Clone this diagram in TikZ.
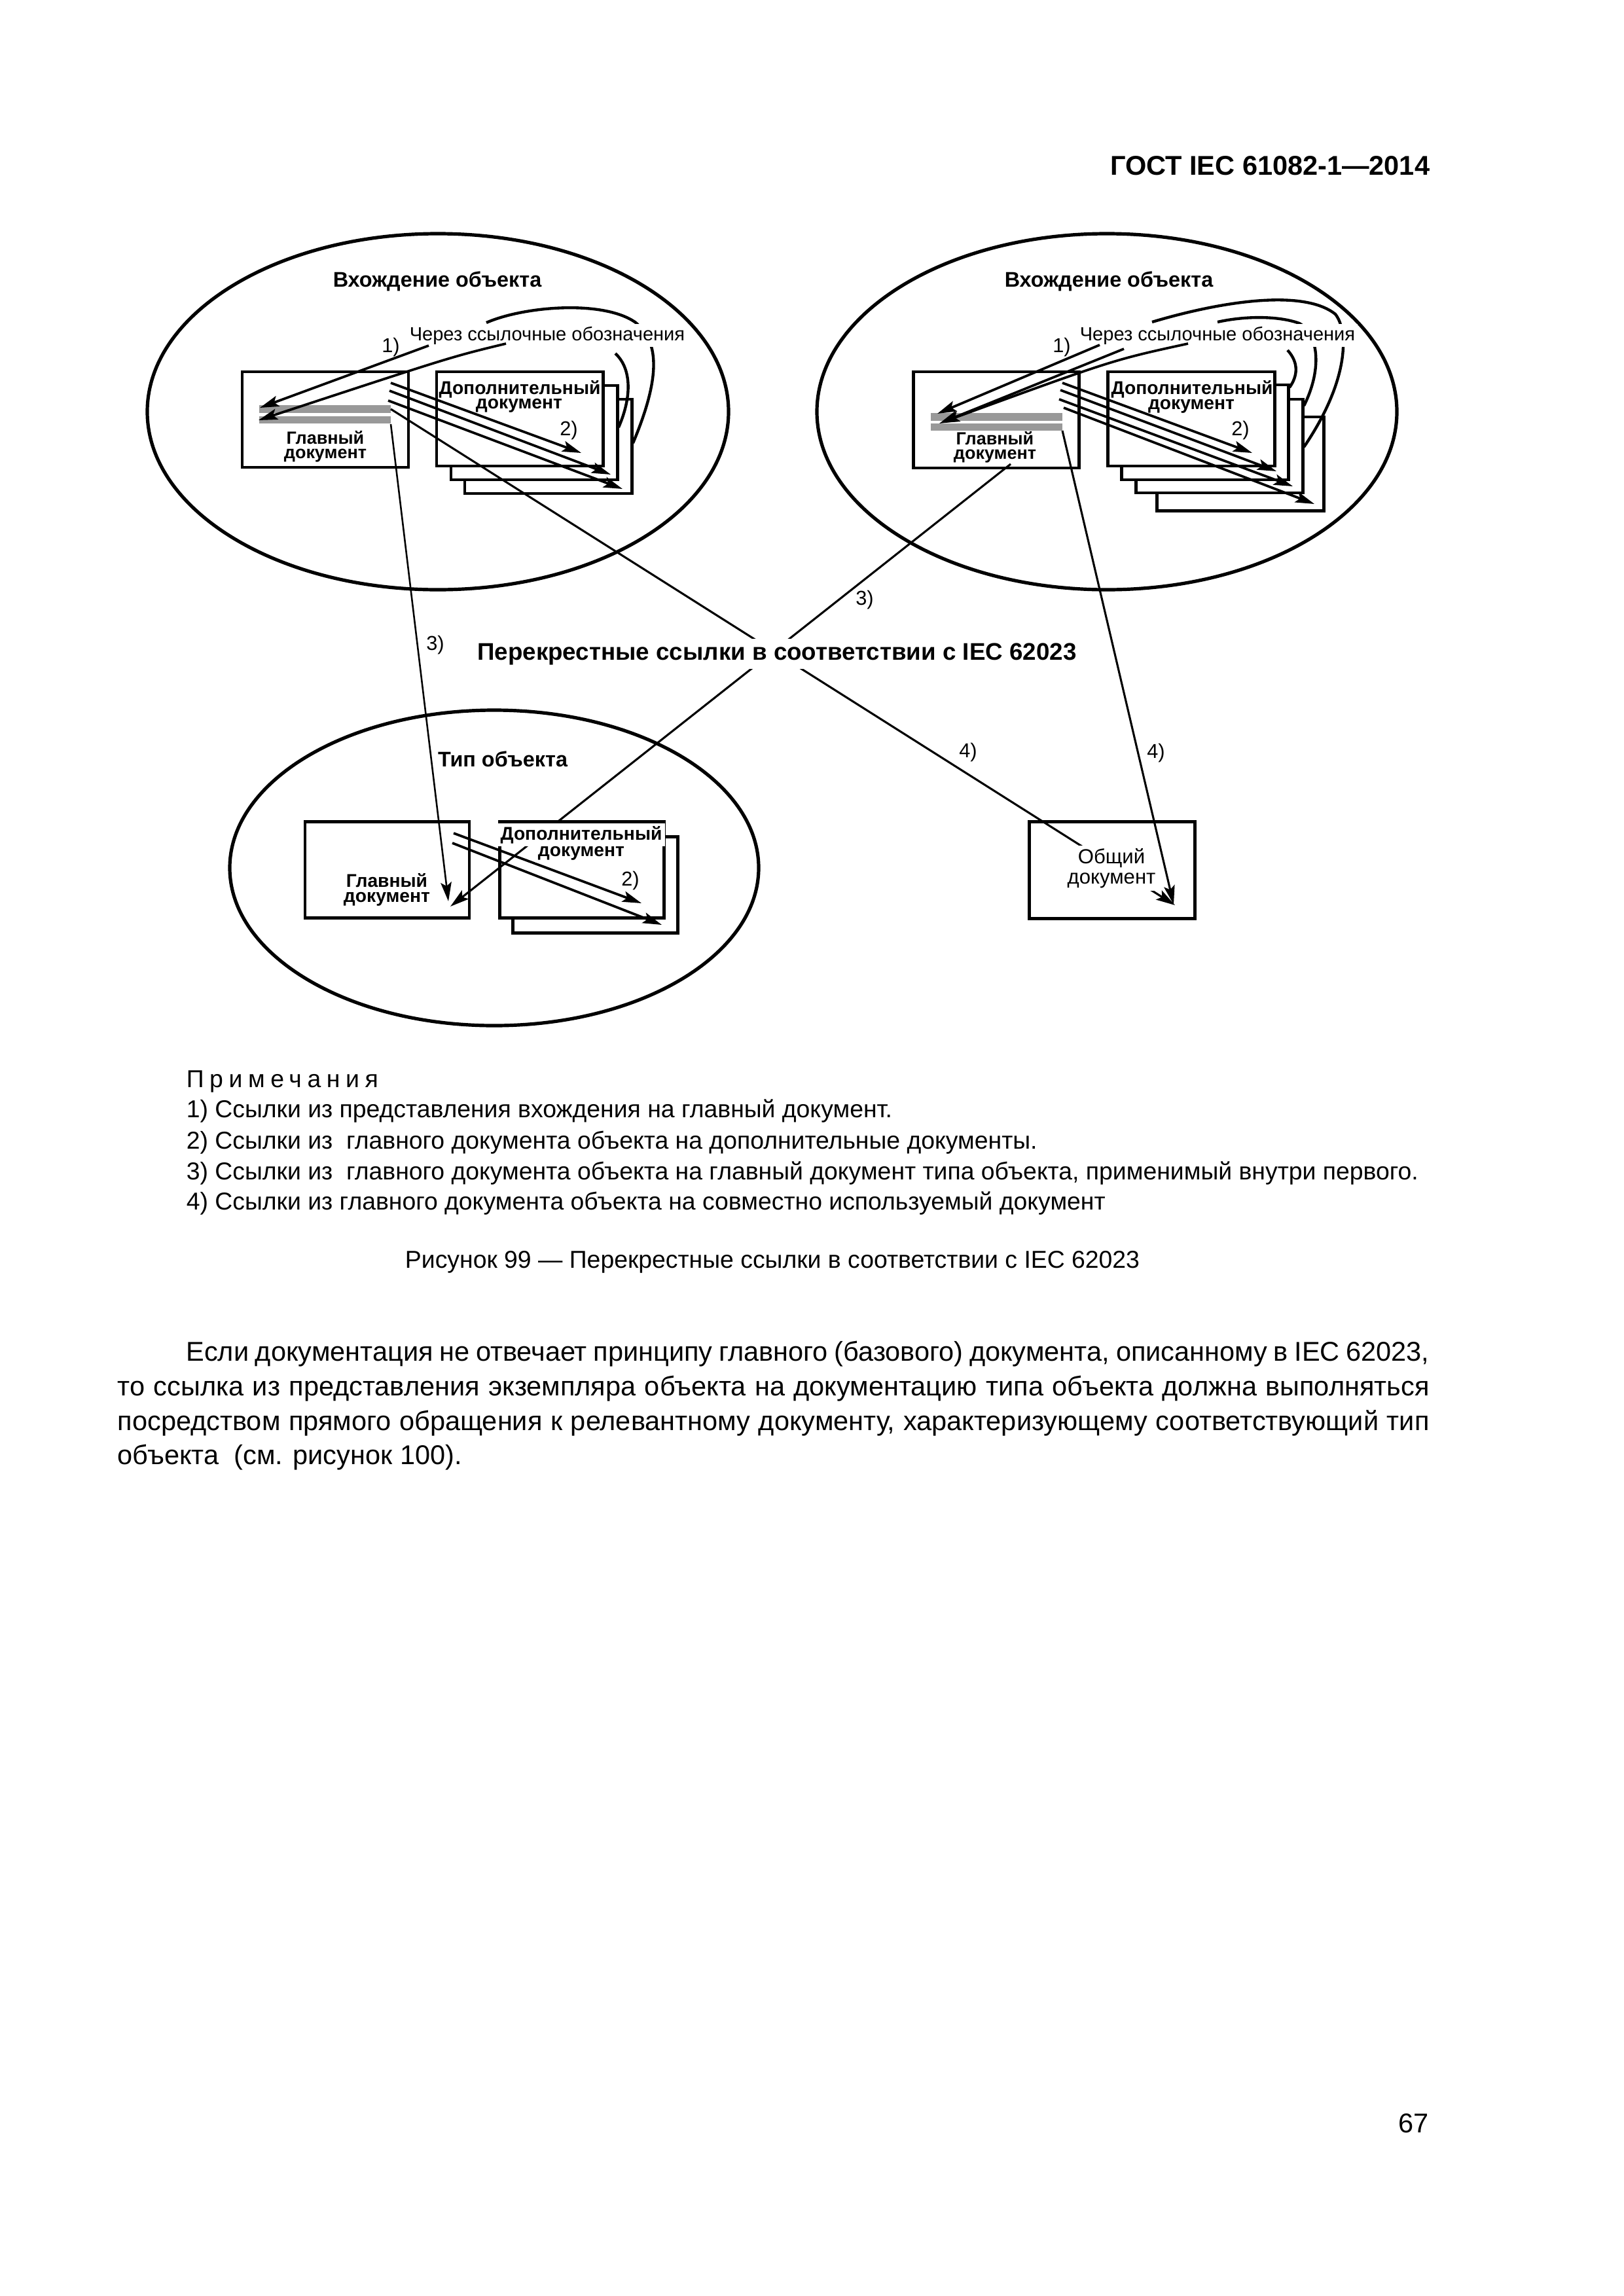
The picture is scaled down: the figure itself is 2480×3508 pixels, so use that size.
\documentclass[tikz,border=0pt]{standalone}
\usepackage{fontspec}
\setmainfont{Liberation Sans}
\newfontfamily\spacedfont[LetterSpace=23]{Liberation Sans}
\usetikzlibrary{arrows.meta}
\begin{document}
\begin{tikzpicture}[x=0.0084677cm, y=-0.0084677cm,
  ell/.style={line width=1.25pt},
  box/.style={draw, line width=1.2pt, fill=white},
  bar/.style={fill=black!40},
  arr/.style={line width=0.9pt, -{Stealth[length=7pt,width=4pt,inset=1.4pt]}},
  lng/.style={line width=0.75pt, -{Stealth[length=7pt,width=4pt,inset=1.4pt]}},
  crv/.style={line width=1.05pt},
  ttl/.style={font=\fontsize{7.8pt}{9pt}\selectfont\bfseries, inner sep=0pt, anchor=base},
  refl/.style={font=\fontsize{7pt}{8pt}\selectfont, fill=white, inner sep=1pt, anchor=base},
  num/.style={font=\fontsize{7.4pt}{8pt}\selectfont, inner sep=0pt, anchor=base},
  docl/.style={font=\fontsize{6.8pt}{8pt}\selectfont\bfseries, inner sep=0pt, anchor=base},
  docm/.style={font={\fontsize{6.5pt}{5.3pt}\selectfont\bfseries\lineskiplimit=-20pt}, inner sep=0pt, align=center, anchor=center},
  docn/.style={font={\fontsize{6.8pt}{5.5pt}\selectfont\bfseries\lineskiplimit=-20pt}, inner sep=0pt, align=center, anchor=center},
  docw/.style={docl, fill=white, inner sep=1pt},
  gen/.style={font=\fontsize{7.5pt}{9pt}\selectfont, fill=white, inner sep=1pt, anchor=base},
  big/.style={font=\fontsize{8.85pt}{10pt}\selectfont\bfseries, fill=white, inner sep=1.5pt, anchor=base},
  note/.style={font=\fontsize{9pt}{11pt}\selectfont, inner sep=0pt, anchor=base west},
  body/.style={font=\fontsize{10pt}{12pt}\selectfont, inner sep=0pt, anchor=base west}
]
\useasboundingbox (0,0) rectangle (2480,3508);

% header
\node[font=\fontsize{10pt}{12pt}\selectfont\bfseries, inner sep=0pt, anchor=base east] (hdr) at (2185,267) {ГОСТ IEC 61082-1—2014};

% ellipses
\draw[ell] (669,629) ellipse [x radius=444, y radius=272];
\draw[ell] (1691,629) ellipse [x radius=443, y radius=272];
\draw[ell] (755,1326) ellipse [x radius=404, y radius=241];

% ---------- ellipse 1 boxes ----------
\path[box] (370,568) rectangle (624,714);
\fill[bar] (396,619) rectangle (597,631);
\fill[bar] (396,636) rectangle (597,647);
\path[box] (710,610) rectangle (965,754);
\path[box] (689,589) rectangle (943,733);
\path[box] (667,568) rectangle (921,712);

% ---------- ellipse 2 boxes ----------
\path[box] (1395,568) rectangle (1648,715);
\fill[bar] (1422,631) rectangle (1623,643);
\fill[bar] (1422,647) rectangle (1623,658);
\path[box] (1767,637) rectangle (2022,780);
\path[box] (1735,610) rectangle (1990,753);
\path[box] (1713,588) rectangle (1968,733);
\path[box] (1692,568) rectangle (1947,712);

% ---------- ellipse 3 boxes ----------
\path[box] (466,1255) rectangle (717,1402);
\path[box] (783,1278) rectangle (1035,1425);
\path[box] (763,1255) rectangle (1014,1402);

% common document
\path[box] (1572,1255) rectangle (1825,1403);

% ---------- reference designation curves ----------
\draw[crv] (743,493) .. controls (800,468) and (920,458) .. (970,492)
  .. controls (1005,520) and (1012,570) .. (967,677);
\draw[crv] (940,540) .. controls (962,560) and (968,600) .. (945,653);
\draw[crv] (1760,492) .. controls (1860,462) and (1990,440) .. (2040,480)
  .. controls (2060,505) and (2062,580) .. (1992,683);
\draw[crv] (1860,492) .. controls (1905,482) and (1955,483) .. (1985,494)
  .. controls (2012,508) and (2022,560) .. (1992,620);
\draw[crv] (1967,535) .. controls (1985,555) and (1982,575) .. (1970,592);

% ---------- texts in ellipses ----------
\node[ttl] (t1) at (668,438) {Вхождение объекта};
\node[ttl] (t2) at (1694,438) {Вхождение объекта};
\node[refl] (r1) at (836,520) {Через ссылочные обозначения};
\node[refl] (r2) at (1860,520) {Через ссылочные обозначения};
\node[num] (n1a) at (597,538) {1)};
\node[num] (n1b) at (1622,538) {1)};

\node[docm] (g1) at (497,682) {Главный\\документ};
\node[docl] (d1a) at (794,602) {Дополнительный};
\node[docl] (d1b) at (793,624) {документ};
\node[num] (n2a) at (869,665) {2)};

\node[docm] (g2) at (1520,683) {Главный\\документ};
\node[docl] (d2a) at (1821,602) {Дополнительный};
\node[docl] (d2b) at (1820,625) {документ};
\node[num] (n2b) at (1895,665) {2)};

\node[ttl] (t3) at (768,1171) {Тип объекта};
\node[docn] (g3) at (591,1359.5) {Главный\\документ};
\node[num] (n2c) at (963,1353) {2)};

% ---------- arrows 1) ----------
\coordinate (s1a) at (655,528);  \coordinate (e1a) at (397,623);
\coordinate (s1b) at (773,525);  \coordinate (e1b) at (395,642);
\draw[arr] (s1a) -- (e1a);
\draw[arr] (s1b) .. controls (690,545) .. (e1b);
\coordinate (s2a) at (1680,527); \coordinate (e2a) at (1432,632);
\coordinate (s2b) at (1717,533); \coordinate (e2b) at (1435,647);
\coordinate (s2c) at (1815,525); \coordinate (e2c) at (1437,646);
\draw[arr] (s2a) -- (e2a);
\draw[arr] (s2b) -- (e2b);
\draw[arr] (s2c) .. controls (1700,550) .. (e2c);

% ---------- arrows 2) ----------
\draw[arr] (597,585) -- (888,692);
\draw[arr] (595,597) -- (933,725);
\draw[arr] (593,612) -- (951,747);
\draw[arr] (1623,585) -- (1913,692);
\draw[arr] (1620,596) -- (1950,720);
\draw[arr] (1618,610) -- (1975,743);
\draw[arr] (1625,623) -- (2008,770);
\draw[arr] (693,1273) -- (980,1380);
\draw[arr] (691,1288) -- (1011,1413);

% ---------- long cross references ----------
\coordinate (b1) at (597,648);
\coordinate (b1t) at (685,1377);
\draw[lng, line width=0.62pt] (b1) -- (b1t);
\coordinate (c1) at (597,625);
\coordinate (od) at (1795,1383);
\draw[lng] (c1) -- (od);
\coordinate (b2) at (1623,658);
\coordinate (od2) at (1793,1382);
\draw[lng] (b2) -- (od2);
\coordinate (c2) at (1544,709);
\coordinate (g3t) at (688,1385);
\draw[lng] (c2) -- (g3t);

% texts covering lines
\node[docw] (d3a) at (888,1283) {Дополнительный};
\node[docw] (d3b) at (888,1308) {документ};
\node[gen] (oa) at (1698,1319) {Общий};
\node[gen] (ob) at (1698,1350) {документ};
\node[big] (xr) at (1187,1008) {Перекрестные ссылки в соответствии с IEC 62023};

\node[num] (n3a) at (665,993) {3)};
\node[num] (n3b) at (1321,924) {3)};
\node[num] (n4a) at (1479,1157) {4)};
\node[num] (n4b) at (1766,1158) {4)};

% ---------- notes ----------
\node[note] (nt0) at (284,1661) {\spacedfont Примечания};
\node[note] (nt1) at (284,1707) {1) Ссылки из представления вхождения на главный документ.};
\node[note] (nt2) at (284,1755) {2) Ссылки из\ \ главного документа объекта на дополнительные документы.};
\node[note] (nt3) at (284,1802) {3) Ссылки из\ \ главного документа объекта на главный документ типа объекта, применимый внутри первого.};
\node[note] (nt4) at (284,1848) {4) Ссылки из главного документа объекта на совместно используемый документ};
\node[note, anchor=base] (cap) at (1180,1937) {Рисунок 99 — Перекрестные ссылки в соответствии с IEC 62023};

% ---------- body ----------
\node[body] (p1) at (284,2079) {\makebox[457.5pt][s]{Если документация не отвечает принципу главного (базового) документа, описанному в IEC 62023,}};
\node[body] (p2) at (179,2132) {\makebox[482.8pt][s]{то ссылка из представления экземпляра объекта на документацию типа объекта должна выполняться}};
\node[body] (p3) at (179,2185) {\makebox[482.8pt][s]{посредством прямого обращения к релевантному документу, характеризующему соответствующий тип}};
\node[body] (p4) at (179,2237) {объекта\ \ (см. рисунок 100).};

\node[font=\fontsize{10pt}{12pt}\selectfont, inner sep=0pt, anchor=base east] (pg) at (2183,3258) {67};
\end{tikzpicture}
\end{document}
